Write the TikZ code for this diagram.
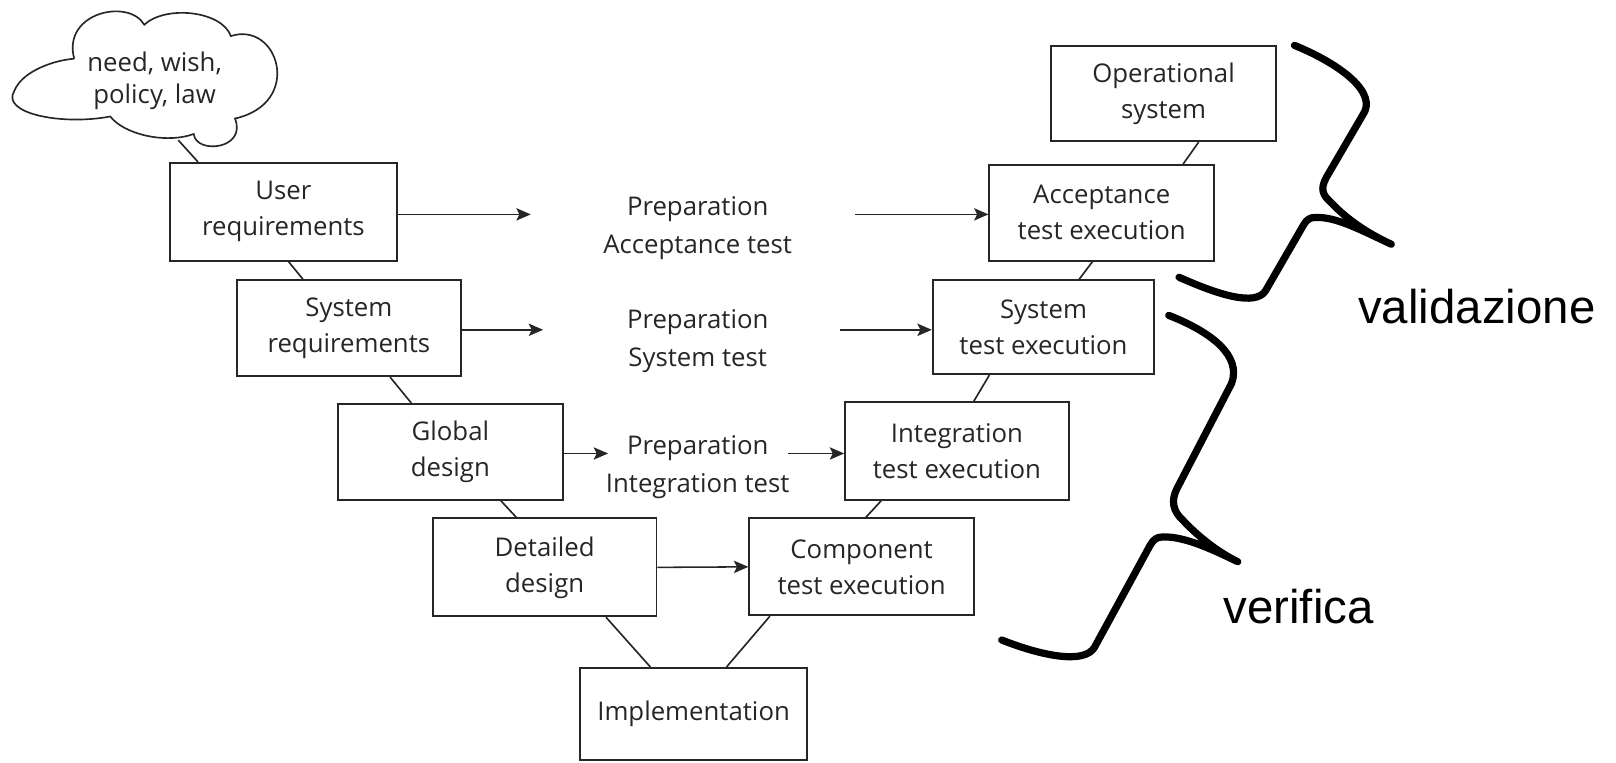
\documentclass[tikz,border=0pt]{standalone}
\usepackage{fontspec}
\setmainfont{Open Sans}
\newfontfamily\labelfont{Liberation Sans}
\usetikzlibrary{arrows.meta,calc}

\begin{document}
\begin{tikzpicture}[x=1pt,y=-1pt,
  box/.style={draw=black!85,line width=1.8pt,rectangle,minimum width=218pt,
    minimum height=93pt,inner sep=0pt,align=center,
    font=\fontsize{25}{35}\selectfont,text=black!85},
  prep/.style={inner sep=0pt,align=center,font=\fontsize{25}{37}\selectfont,text=black!85},
  link/.style={draw=black!85,line width=1.6pt},
  arr/.style={draw=black!85,line width=1.5pt,-{Stealth[length=14pt,width=12pt,inset=3pt]}},
  brace/.style={draw=black,line width=7pt,line cap=round,line join=round},
  tag/.style={inner sep=0pt,font=\labelfont\fontsize{46}{50}\selectfont}]

\fill[white] (0,0) rectangle (1568,740);
\useasboundingbox (0,0) rectangle (1568,740);

% the cloud with the origin of the requirements
\draw[link] (72,57) .. controls (60,12) and (125,-2) .. (140,24)
  .. controls (160,5) and (215,10) .. (224,35)
  .. controls (270,20) and (295,100) .. (228,115)
  .. controls (240,145) and (190,150) .. (188,130)
  .. controls (160,140) and (120,130) .. (107,113)
  .. controls (60,122) and (0,110) .. (14,88)
  .. controls (22,68) and (55,58) .. (72,57);
\node[prep,font=\fontsize{25}{31}\selectfont] (cloud) at (150,78) {need, wish,\\policy, law};
\coordinate (cloudfoot) at (173,136);

% left branch: specification
\node[box,minimum width=220pt,minimum height=95pt] (ur) at (275,205.5) {User\\requirements};
\node[box,minimum width=217pt] (sr) at (338.5,318.5) {System\\requirements};
\node[box] (gd) at (437,438.5) {Global\\design};
\node[box,minimum width=217pt,minimum height=95pt] (dd) at (528.5,550.5) {Detailed\\design};

% bottom
\node[box,minimum width=220pt,minimum height=89pt] (im) at (673,692.5) {Implementation};

% right branch: testing
\node[box,minimum height=94pt] (ct) at (836,550) {Component\\test execution};
\node[box,minimum width=217pt,minimum height=95pt] (it) at (928.5,437.5) {Integration\\test execution};
\node[box,minimum width=215pt,minimum height=91pt] (st) at (1012.5,317.5) {System\\test execution};
\node[box] (at) at (1069,206.5) {Acceptance\\test execution};
\node[box,minimum height=92pt] (os) at (1129,91) {Operational\\system};

% test preparation in the middle
\node[prep] (pa) at (677,221) {Preparation\\Acceptance test};
\node[prep] (ps) at (677,331) {Preparation\\System test};
\node[prep] (pi) at (677,453) {Preparation\\Integration test};

\coordinate (a1e) at (515,208);
\coordinate (a1s) at (830,208);
\coordinate (a2e) at (527,320);
\coordinate (a2s) at (815,320);
\coordinate (a3e) at (590,440);
\coordinate (a3s) at (765,440);

\draw[arr] (ur.east |- a1e) -- (a1e);
\draw[arr] (a1s) -- (at.west |- a1s);
\draw[arr] (sr.east |- a2e) -- (a2e);
\draw[arr] (a2s) -- (st.west |- a2s);
\draw[arr] (gd.east |- a3e) -- (a3e);
\draw[arr] (a3s) -- (it.west |- a3s);
\draw[arr] (dd.east) -- (ct.west);

% the V
\draw[link] (cloudfoot) -- ($(ur.north west)+(28,0)$);
\draw[link] ($(ur.south)+(5,0)$) -- ($(sr.north west)+(65,0)$);
\draw[link] ($(sr.south)+(40,0)$) -- ($(gd.north west)+(72,0)$);
\draw[link] ($(gd.south)+(49,0)$) -- ($(dd.north west)+(82,0)$);
\draw[link] ($(dd.south)+(59.5,0)$) -- ($(im.north)+(-42,0)$);
\draw[link] ($(ct.south)+(-89,0)$) -- ($(im.north)+(32,0)$);
\draw[link] ($(it.south)+(-73.5,0)$) -- ($(ct.north)+(4,0)$);
\draw[link] ($(st.south)+(-52.5,0)$) -- ($(it.north)+(16.5,0)$);
\draw[link] ($(at.south)+(-9,0)$) -- ($(st.north)+(34.5,0)$);
\draw[link] ($(os.south)+(34,0)$) -- ($(at.north)+(79,0)$);

% braces
\draw[brace] (1256,44) .. controls (1300,62) and (1338,90) .. (1322,112)
  -- (1287,172) .. controls (1281,183) and (1283,189) .. (1291,196)
  .. controls (1306,212) and (1326,226) .. (1350,237)
  .. controls (1320,223) and (1296,210) .. (1276,211)
  .. controls (1271,211) and (1268,213) .. (1265,218)
  -- (1228,282) .. controls (1218,298) and (1180,285) .. (1144,269);
\draw[brace] (1134,306) .. controls (1175,322) and (1205,345) .. (1195,372)
  -- (1142,474) .. controls (1136,486) and (1138,496) .. (1148,505)
  .. controls (1160,518) and (1180,535) .. (1201,545)
  .. controls (1180,535) and (1150,520) .. (1128,521)
  .. controls (1122,521) and (1119,524) .. (1116,529)
  -- (1062,628) .. controls (1052,645) and (1010,636) .. (972,621);

\node[tag] (val) at (1433,297) {validazione};
\node[tag] (ver) at (1260,589) {verifica};

\end{tikzpicture}
\end{document}
